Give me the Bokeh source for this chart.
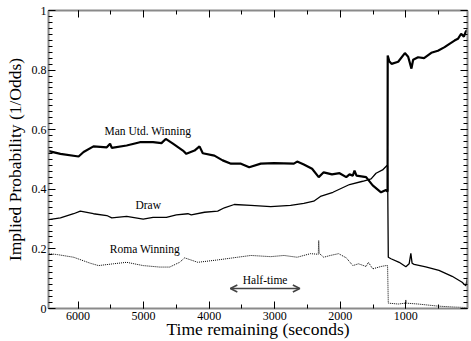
from bokeh.plotting import figure
from bokeh.models import (Range1d, LinearAxis, SingleIntervalTicker, CustomJSTickFormatter,
                          Label, Arrow, OpenHead, CustomLabelingPolicy)
from bokeh.embed import file_html
from bokeh.resources import INLINE

# ---- data ----
manu_t = [6445, 6268, 5991, 5915, 5764, 5561, 5511, 5485, 5258, 5056, 4855, 4727, 4662, 4552,
          4400, 4348, 4223, 4147, 4097, 3920, 3794, 3667, 3515, 3389, 3212, 3011, 2708, 2658,
          2556, 2430, 2329, 2253, 2127, 2011, 1909, 1859, 1809, 1783, 1753, 1606, 1506, 1379,
          1303, 1283, 1279,
          1277, 1253, 1218, 1117, 1015, 965, 915, 889, 814, 723, 612, 511, 409, 329, 258, 206,
          157, 115, 85, 55]
manu_p = [0.528, 0.519, 0.510, 0.525, 0.544, 0.541, 0.553, 0.539, 0.547, 0.558, 0.558, 0.555,
          0.569, 0.553, 0.530, 0.519, 0.530, 0.544, 0.521, 0.513, 0.497, 0.486, 0.486, 0.474,
          0.486, 0.488, 0.486, 0.493, 0.483, 0.469, 0.441, 0.457, 0.450, 0.454, 0.441, 0.450,
          0.446, 0.463, 0.446, 0.441, 0.413, 0.390, 0.398, 0.392, 0.395,
          0.849, 0.830, 0.821, 0.828, 0.857, 0.845, 0.805, 0.835, 0.843, 0.840, 0.858, 0.865,
          0.877, 0.889, 0.899, 0.905, 0.922, 0.912, 0.930, 0.935]

draw_t = [6445, 6268, 6067, 5965, 5764, 5561, 5485, 5258, 5006, 4855, 4652, 4500, 4324, 4273,
          4071, 3870, 3768, 3617, 3364, 3061, 2758, 2556, 2405, 2303, 2112, 1859, 1658, 1530,
          1455, 1355, 1288, 1279,
          1268, 1227, 1102, 1000, 950, 924, 905, 874, 697, 495, 294, 142, 85, 55]
draw_p = [0.298, 0.304, 0.318, 0.327, 0.318, 0.312, 0.304, 0.309, 0.300, 0.306, 0.306, 0.314,
          0.318, 0.314, 0.323, 0.327, 0.338, 0.349, 0.346, 0.342, 0.346, 0.353, 0.360, 0.376,
          0.390, 0.416, 0.427, 0.435, 0.454, 0.465, 0.480, 0.478,
          0.172, 0.167, 0.155, 0.140, 0.150, 0.185, 0.152, 0.148, 0.140, 0.128, 0.108, 0.088,
          0.076, 0.110]

roma_t = [6445, 6318, 6067, 5814, 5688, 5461, 5258, 5006, 4753, 4602, 4450, 4374, 4173, 3870,
          3567, 3364, 3061, 2859, 2658, 2455, 2336, 2329, 2321, 2253, 2152, 2026, 1909, 1809,
          1723, 1606, 1571, 1506, 1379, 1303, 1279,
          1268, 1117, 1005, 1000, 995, 814, 511, 284, 55]
roma_p = [0.184, 0.181, 0.172, 0.152, 0.144, 0.150, 0.155, 0.144, 0.139, 0.139, 0.155, 0.170,
          0.155, 0.163, 0.172, 0.178, 0.174, 0.178, 0.172, 0.184, 0.182, 0.228, 0.185, 0.172,
          0.178, 0.184, 0.170, 0.144, 0.150, 0.141, 0.155, 0.133, 0.141, 0.144, 0.144,
          0.018, 0.015, 0.018, 0.029, 0.018, 0.015, 0.008, 0.005, 0.003]

labels_text = ["Man Utd. Winning", "Draw", "Roma Winning"]
labels_t = [4935, 4930, 4980]
labels_p = [0.597, 0.346, 0.200]

halftime_text = "Half-time"
halftime_start = 3677
halftime_end = 2617
halftime_p = 0.067

FONT = "Liberation Serif"

p = figure(width=471, height=341, output_backend="svg", toolbar_location=None,
           x_range=Range1d(6450, 60), y_range=Range1d(0, 1),
           min_border_left=48, min_border_right=1, min_border_top=10, min_border_bottom=33,
           x_axis_label="Time remaining (seconds)",
           y_axis_label="Implied Probability (1/Odds)")
p.xgrid.visible = False
p.ygrid.visible = False
p.outline_line_color = None
p.background_fill_color = "white"
p.border_fill_color = "white"

bottom = p.below[0]
left = p.left[0]

xtick = SingleIntervalTicker(interval=1000, num_minor_ticks=2)
ytick = SingleIntervalTicker(interval=0.2, num_minor_ticks=10)
yfmt = CustomJSTickFormatter(code="return Number(tick.toFixed(1)).toString();")

bottom.ticker = xtick
left.ticker = ytick
left.formatter = yfmt

top = LinearAxis(ticker=xtick)
right = LinearAxis(ticker=ytick)
p.add_layout(top, "above")
p.add_layout(right, "right")

for ax in [bottom, left, top, right]:
    ax.axis_line_color = "#8a8a8a"
    ax.axis_line_width = 2
    ax.major_tick_line_color = "black"
    ax.minor_tick_line_color = "black"
    ax.major_tick_in = 7
    ax.major_tick_out = 0
    ax.minor_tick_in = 4
    ax.minor_tick_out = 0
    ax.major_label_text_font = FONT
    ax.major_label_text_font_size = "12px"
    ax.major_label_text_color = "black"
    ax.major_label_standoff = 2
    ax.axis_label_text_font = FONT
    ax.axis_label_text_font_size = "17.5px"
    ax.axis_label_text_font_style = "normal"
    ax.axis_label_text_color = "black"

for ax in [top, right]:
    ax.major_label_policy = CustomLabelingPolicy(code="return []")
    ax.major_label_text_font_size = "1px"
    ax.major_label_standoff = 0

bottom.major_label_standoff = 3
bottom.axis_label_standoff = -4
left.axis_label_standoff = 4

p.line(manu_t, manu_p, line_color="black", line_width=2.2)
p.line(draw_t, draw_p, line_color="black", line_width=1.3)
p.line(roma_t, roma_p, line_color="black", line_width=1, line_dash="1 1")

for txt, tx, ty in zip(labels_text, labels_t, labels_p):
    p.add_layout(Label(x=tx, y=ty, text=txt, text_align="center", text_baseline="middle",
                       text_font=FONT, text_font_size="11.5px", text_color="black"))

p.add_layout(Label(x=(halftime_start + halftime_end) / 2, y=halftime_p + 0.03, text=halftime_text,
                   text_align="center", text_baseline="middle", text_font=FONT,
                   text_font_size="11.5px", text_color="black"))
p.add_layout(Arrow(start=OpenHead(size=7, line_color="#444444", line_width=1.5),
                   end=OpenHead(size=7, line_color="#444444", line_width=1.5),
                   x_start=halftime_start, y_start=halftime_p, x_end=halftime_end, y_end=halftime_p,
                   line_color="#444444", line_width=1.5))

open("out.html", "w").write(file_html(p, INLINE))
